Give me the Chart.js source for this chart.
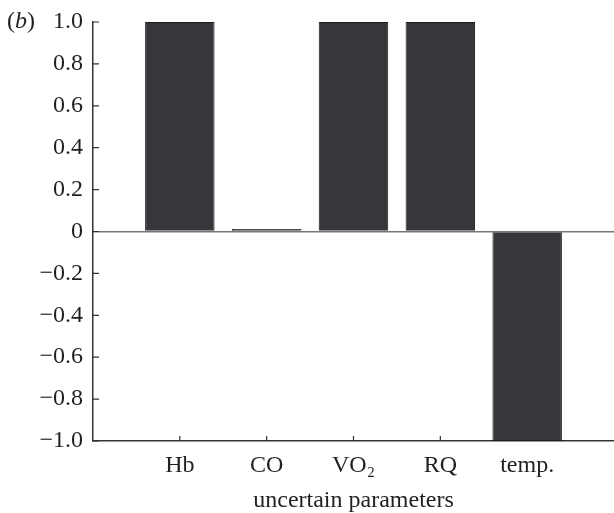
<!DOCTYPE html>
<html>
<head>
<meta charset="utf-8">
<script src="https://cdn.jsdelivr.net/npm/chart.js@4/dist/chart.umd.min.js"></script>
<style>
  body { margin: 0; background: #fff; }
  #wrap { width: 614px; height: 513px; }
</style>
</head>
<body>
<div id="wrap"><canvas id="myChart" width="614" height="513"></canvas></div>
<script>
const categories = ["Hb", "CO", "VO\u2082", "RQ", "temp."];
const values = [1.0, 0.012, 1.0, 1.0, -1.0];
const yTicks = [-1.0, -0.8, -0.6, -0.4, -0.2, 0, 0.2, 0.4, 0.6, 0.8, 1.0];

const serif = "'Liberation Serif', 'DejaVu Serif', serif";
const ink = "#231f20";
const fs = 24;

const fmt = (v) => {
  if (Math.abs(v) < 1e-9) return "0";
  const s = Math.abs(v).toFixed(1);
  return v < 0 ? "\u2212" + s : s;
};

// small inward tick marks + panel letter
const extras = {
  id: "extras",
  beforeDatasetsDraw(chart) {
    const { ctx, scales } = chart;
    const x = scales.x, y = scales.y;
    ctx.save();
    ctx.strokeStyle = "#333";
    ctx.lineWidth = 1.2;
    ctx.beginPath();
    yTicks.forEach((v) => {
      const py = y.getPixelForValue(v);
      ctx.moveTo(x.left, py);
      ctx.lineTo(x.left + 6, py);
    });
    categories.forEach((c, i) => {
      const px = x.getPixelForValue(i + 1);
      ctx.moveTo(px, y.bottom);
      ctx.lineTo(px, y.bottom - 5);
    });
    ctx.stroke();
    ctx.restore();
  },
  afterDraw(chart) {
    const { ctx } = chart;
    ctx.save();
    ctx.fillStyle = ink;
    ctx.textBaseline = "middle";
    ctx.font = fs + "px " + serif;
    ctx.fillText("(", 7, 22);
    const w1 = ctx.measureText("(").width;
    ctx.font = "italic " + fs + "px " + serif;
    ctx.fillText("b", 7 + w1, 22);
    const w2 = ctx.measureText("b").width;
    ctx.font = fs + "px " + serif;
    ctx.fillText(")", 7 + w1 + w2, 22);
    ctx.restore();
  }
};

const ctx = document.getElementById("myChart");
const myChart = new Chart(ctx, {
  type: "bar",
  data: {
    datasets: [
      {
        data: categories.map((c, i) => ({ x: i + 1, y: values[i] })),
        backgroundColor: "#38363a",
        borderColor: "#1f1d1f",
        borderWidth: 1,
        barPercentage: 0.8,
        categoryPercentage: 1.0,
      },
    ],
  },
  options: {
    responsive: false,
    animation: false,
    layout: { padding: { top: 8, right: 0, left: 0, bottom: 0 } },
    plugins: { legend: { display: false }, tooltip: { enabled: false } },
    scales: {
      x: {
        type: "linear",
        offset: false,
        min: 0,
        max: 6,
        afterBuildTicks: (scale) => {
          scale.ticks = categories.map((c, i) => ({ value: i + 1 }));
        },
        afterFit: (scale) => { scale.height = 72; },
        grid: { display: false, drawTicks: false },
        border: { display: true, color: "#333", width: 1.5 },
        ticks: {
          autoSkip: false,
          maxRotation: 0,
          padding: 10,
          color: ink,
          font: { family: serif, size: fs },
          callback: (v) => categories[Math.round(v) - 1] || "",
        },
        title: {
          display: true,
          text: "uncertain parameters",
          color: ink,
          font: { family: serif, size: fs, lineHeight: 1 },
          padding: { top: -4, bottom: 0 },
        },
      },
      y: {
        min: -1,
        max: 1,
        afterBuildTicks: (scale) => {
          scale.ticks = yTicks.map((v) => ({ value: v }));
        },
        afterFit: (scale) => { scale.width = 93; },
        grid: {
          drawTicks: false,
          lineWidth: 1.5,
          color: (c) => (c.tick && Math.abs(c.tick.value) < 1e-9 ? "#777" : "rgba(0,0,0,0)"),
        },
        border: { display: true, color: "#333", width: 1.5 },
        ticks: {
          padding: 10,
          color: ink,
          font: { family: serif, size: fs, lineHeight: 1 },
          callback: (v) => fmt(v),
        },
      },
    },
  },
  plugins: [extras],
});
</script>
</body>
</html>
